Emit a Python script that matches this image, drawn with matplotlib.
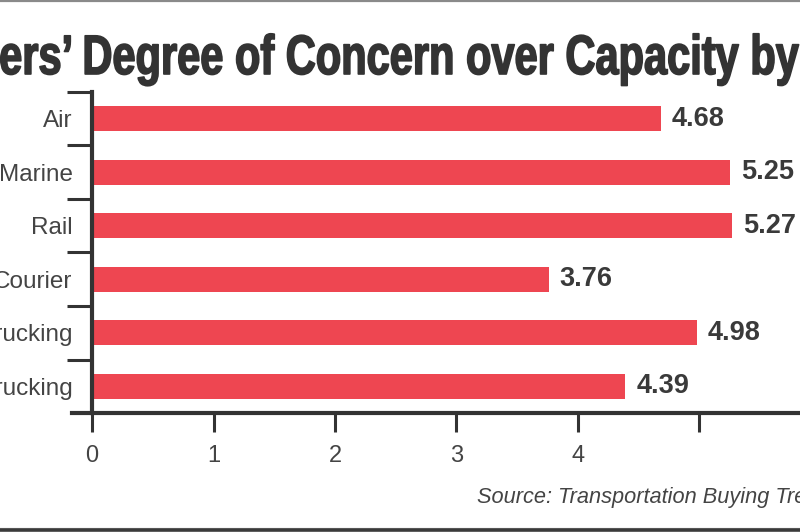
import matplotlib
matplotlib.use("Agg")
import matplotlib.pyplot as plt
import matplotlib.patheffects as patheffects
from matplotlib.transforms import Affine2D
from matplotlib.lines import Line2D

# data (top to bottom)
modes = ['Air', 'Marine', 'Rail', 'Courier', 'LTL Trucking', 'TL Trucking']
concern = [4.68, 5.25, 5.27, 3.76, 4.98, 4.39]
x_ticks = [0, 1, 2, 3, 4, 5]
x_tick_labels = ['0', '1', '2', '3', '4', '']

title = 'Shippers\u2019 Degree of Concern over Capacity by Mode'
source = 'Source: Transportation Buying Trends'

plt.rcParams['font.family'] = ['Liberation Sans', 'DejaVu Sans']

BAR = '#EE4651'
INK = '#333333'
GREY = '#444444'


class Squeeze(patheffects.AbstractPathEffect):
    # squeeze glyphs horizontally to imitate a condensed headline face
    def __init__(self, sx):
        super().__init__()
        self.sx = sx

    def draw_path(self, renderer, gc, tpath, affine, rgbFace=None):
        gc.set_linewidth(1.2)
        renderer.draw_path(gc, tpath, Affine2D().scale(self.sx, 1) + affine, rgbFace)


W, H = 800, 532
fig = plt.figure(figsize=(8, 5.32), dpi=100)
ax = fig.add_axes([72 / W, (H - 413) / H, 728 / W, (413 - 92) / H])

ypos = list(range(len(modes)))
ax.barh(ypos, concern, height=0.47, color=BAR)

for y, v in zip(ypos, concern):
    ax.annotate(f'{v:.2f}', (v, y), xytext=(11, 0), textcoords='offset pixels',
                ha='left', va='center', fontsize=19.5, fontweight='bold', color='#3a3a3a')

px = 121.5
ax.set_xlim(-20 / px, 708 / px)
ax.set_ylim(len(modes) - 0.5, -0.5)

for side in ['top', 'right']:
    ax.spines[side].set_visible(False)
ax.spines['left'].set_position(('data', 0))
ax.spines['left'].set_linewidth(3)
ax.spines['bottom'].set_linewidth(3)
ax.spines['left'].set_color(INK)
ax.spines['bottom'].set_color(INK)

ax.set_xticks(x_ticks)
ax.set_xticklabels(x_tick_labels)
ax.tick_params(axis='x', length=14, width=2.2, color=INK, pad=9,
               labelsize=17, labelcolor=GREY)

ax.set_yticks(ypos)
ax.set_yticklabels(modes)
ax.set_yticks([y - 0.5 for y in ypos], minor=True)
ax.tick_params(axis='y', which='major', length=0, pad=14, labelsize=17.5, labelcolor=GREY)
ax.tick_params(axis='y', which='minor', length=18, width=2.2, color=INK)

# title: measure so that the visible part "ers' ... by" spans the width
renderer = fig.canvas.get_renderer()
probe = fig.text(0, 0, 'Shipp', fontsize=40, fontweight='bold')
pre_w = probe.get_window_extent(renderer).width
probe.set_text('ers\u2019 Degree of Concern over Capacity by')
vis_w = probe.get_window_extent(renderer).width
probe.remove()
sx = 798 / vis_w
fig.text((-pre_w * sx - 1) / W, (H - 74) / H, title, fontsize=40, fontweight='bold',
         color=INK, ha='left', va='baseline',
         path_effects=[Squeeze(sx)])

fig.text(477 / W, (H - 503) / H, source, fontsize=15.7, style='italic',
         color=GREY, ha='left', va='baseline')

# frame lines at top and bottom
fig.add_artist(Line2D([0, 1], [1 - 1 / H, 1 - 1 / H], color='#8a8a8a', lw=1.6))
fig.add_artist(Line2D([0, 1], [4.5 / H, 4.5 / H], color='#cccccc', lw=1))
fig.add_artist(Line2D([0, 1], [1.8 / H, 1.8 / H], color='#3a3a3a', lw=2.6))

fig.savefig('out.png', dpi=100)
